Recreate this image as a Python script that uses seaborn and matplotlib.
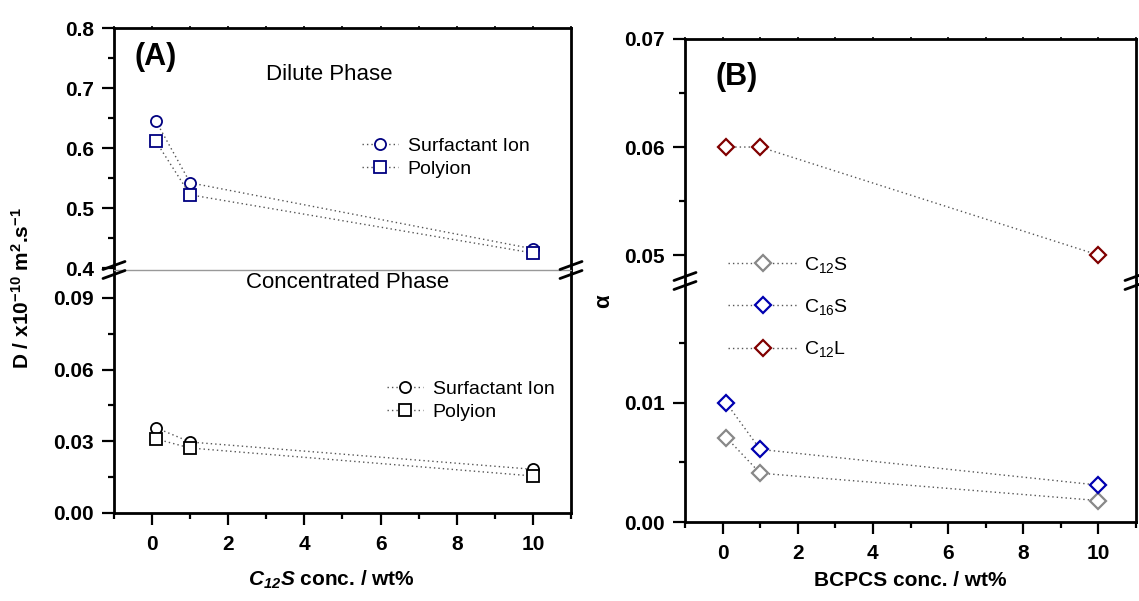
import numpy as np
import pandas as pd
import seaborn as sns
import matplotlib
matplotlib.use("Agg")
import matplotlib.pyplot as plt
from matplotlib.ticker import MultipleLocator, FixedLocator, FormatStrFormatter
from matplotlib.lines import Line2D

# ---------------- data ----------------
conc = [0.1, 1.0, 10.0]
dilute_surf = [0.645, 0.542, 0.432]
dilute_poly = [0.611, 0.522, 0.425]
conc_surf = [0.0357, 0.0297, 0.0183]
conc_poly = [0.0310, 0.0272, 0.0155]

bcpcs = [0.1, 1.0, 10.0]
alpha_c12s = [0.0071, 0.0041, 0.0018]
alpha_c16s = [0.0100, 0.0061, 0.0031]
alpha_c12l = [0.0600, 0.0600, 0.0500]

W, H = 1139, 601

sns.set_theme(style="ticks")
plt.rcParams["font.family"] = ["Liberation Sans", "DejaVu Sans"]
plt.rcParams["mathtext.fontset"] = "custom"
plt.rcParams["mathtext.rm"] = "Liberation Sans"
plt.rcParams["mathtext.it"] = "Liberation Sans:italic"
plt.rcParams["mathtext.bf"] = "Liberation Sans:bold"
plt.rcParams["mathtext.bfit"] = "Liberation Sans:italic:bold"
plt.rcParams["axes.linewidth"] = 2.0
for key in ("text.color", "axes.labelcolor", "xtick.color", "ytick.color", "axes.edgecolor"):
    plt.rcParams[key] = "black"

fig = plt.figure(figsize=(W / 100, H / 100), dpi=100)
fig.patch.set_facecolor("white")


def px_axes(l, t, r, b):
    return fig.add_axes([l / W, 1 - b / H, (r - l) / W, (b - t) / H])


axA_top = px_axes(114, 28, 571, 270)
axA_bot = px_axes(114, 270, 571, 513)
axB_top = px_axes(685, 39, 1136, 281)
axB_bot = px_axes(685, 281, 1136, 522)

TICK_FS = 15
LINE_COLOR = "#555555"
LS = (0, (1, 2.2))


def style_pair(top, bot, top_ylim, bot_ylim):
    for ax in (top, bot):
        ax.set_xlim(-1, 11)
        ax.set_facecolor("white")
        for s in ax.spines.values():
            s.set_linewidth(2.0)
            s.set_color("black")
        ax.xaxis.set_major_locator(MultipleLocator(2))
        ax.xaxis.set_minor_locator(MultipleLocator(1))
        ax.tick_params(axis="y", which="major", direction="out", length=8.5, width=1.6,
                       labelsize=TICK_FS, pad=6, right=False, colors="black")
        ax.tick_params(axis="y", which="minor", direction="out", length=4.5, width=1.6,
                       right=False, colors="black")
    top.set_ylim(*top_ylim)
    bot.set_ylim(*bot_ylim)
    top.spines["bottom"].set_visible(False)
    bot.spines["top"].set_visible(False)
    top.tick_params(axis="x", which="both", bottom=False, labelbottom=False,
                    top=True, direction="out", length=1.5, width=1.2, colors="black")
    bot.tick_params(axis="x", which="major", direction="out", length=8.5, width=1.6,
                    labelsize=TICK_FS, pad=7, top=False, colors="black")
    bot.tick_params(axis="x", which="minor", direction="out", length=4.5, width=1.6,
                    top=False, colors="black")


def draw(ax, x, y, marker, color, label, ms=8, mew=1.3):
    sns.lineplot(x=x, y=y, ax=ax, sort=False, color=LINE_COLOR, linestyle=LS, linewidth=1.0,
                 marker=marker, markersize=ms, markeredgecolor=color, markerfacecolor="white",
                 markeredgewidth=mew, label=label, legend=False)


# ---------------- Panel A ----------------
draw(axA_top, conc, dilute_surf, "o", "#000080", "Surfactant Ion")
draw(axA_top, conc, dilute_poly, "s", "#000080", "Polyion")
draw(axA_bot, conc, conc_surf, "o", "black", "Surfactant Ion")
draw(axA_bot, conc, conc_poly, "s", "black", "Polyion")

style_pair(axA_top, axA_bot, (0.3967, 0.8), (0.0, 0.1017))
axA_top.yaxis.set_major_locator(FixedLocator([0.4, 0.5, 0.6, 0.7, 0.8]))
axA_top.yaxis.set_minor_locator(FixedLocator([0.45, 0.55, 0.65, 0.75]))
axA_top.yaxis.set_major_formatter(FormatStrFormatter("%.1f"))
axA_bot.yaxis.set_major_locator(FixedLocator([0.0, 0.03, 0.06, 0.09]))
axA_bot.yaxis.set_minor_locator(FixedLocator([0.015, 0.045, 0.075]))
axA_bot.yaxis.set_major_formatter(FormatStrFormatter("%.2f"))

# ---------------- Panel B ----------------
seriesB = [(alpha_c12s, "#888888", r"C$_{12}$S"),
           (alpha_c16s, "#0000B0", r"C$_{16}$S"),
           (alpha_c12l, "#800000", r"C$_{12}$L")]
for vals, col, lab in seriesB:
    draw(axB_top, bcpcs, vals, "D", col, lab, ms=8, mew=1.6)
    draw(axB_bot, bcpcs, vals, "D", col, lab, ms=8, mew=1.6)

style_pair(axB_top, axB_bot, (0.0476, 0.07), (0.0, 0.02025))
axB_top.yaxis.set_major_locator(FixedLocator([0.05, 0.06, 0.07]))
axB_top.yaxis.set_minor_locator(FixedLocator([0.055, 0.065]))
axB_top.yaxis.set_major_formatter(FormatStrFormatter("%.2f"))
axB_bot.yaxis.set_major_locator(FixedLocator([0.0, 0.01]))
axB_bot.yaxis.set_minor_locator(FixedLocator([0.005, 0.015]))
axB_bot.yaxis.set_major_formatter(FormatStrFormatter("%.2f"))

for ax in (axA_top, axA_bot, axB_top, axB_bot):
    for lab in ax.get_yticklabels() + ax.get_xticklabels():
        lab.set_fontweight("bold")
        lab.set_color("black")

# ---------------- legends ----------------
LEG_FS = 14
h, l = axA_top.get_legend_handles_labels()
axA_top.legend(h, l, loc="center left", bbox_to_anchor=(362 / W, 1 - 157.5 / H),
               bbox_transform=fig.transFigure, frameon=False, fontsize=LEG_FS,
               handlelength=1.85, handletextpad=0.5, labelspacing=0.3,
               borderpad=0, borderaxespad=0, numpoints=1, labelcolor="black")
h, l = axA_bot.get_legend_handles_labels()
axA_bot.legend(h, l, loc="center left", bbox_to_anchor=(387 / W, 1 - 400.5 / H),
               bbox_transform=fig.transFigure, frameon=False, fontsize=LEG_FS,
               handlelength=1.85, handletextpad=0.5, labelspacing=0.3,
               borderpad=0, borderaxespad=0, numpoints=1, labelcolor="black")
h, l = axB_bot.get_legend_handles_labels()
fig.legend(h, l, loc="center left", bbox_to_anchor=(728 / W, 1 - 307 / H),
           bbox_transform=fig.transFigure, frameon=False, fontsize=LEG_FS,
           handlelength=3.6, handletextpad=0.3, labelspacing=1.15,
           borderpad=0, borderaxespad=0, numpoints=1, labelcolor="black")


# ---------------- annotations ----------------
def ftext(x, y, s, **kw):
    fig.text(x / W, 1 - y / H, s, color="black", **kw)


ftext(156, 57, "(A)", fontsize=22, fontweight="bold", ha="center", va="center")
ftext(737, 77, "(B)", fontsize=22, fontweight="bold", ha="center", va="center")
ftext(329, 75, "Dilute Phase", fontsize=16, ha="center", va="center")
ftext(348, 282, "Concentrated Phase", fontsize=16, ha="center", va="center")

ftext(22, 288, r"D / x10$^{\mathbf{-10}}$ m$^{\mathbf{2}}$.s$^{\mathbf{-1}}$",
      fontsize=15, fontweight="bold", rotation=90, ha="center", va="center")
ftext(605, 301, r"$\mathbf{\alpha}$", fontsize=16, fontweight="bold", rotation=90,
      ha="center", va="center")
ftext(331, 580, r"$\mathbfit{C}_{\mathbfit{12}}\mathbfit{S}$ conc. / wt%",
      fontsize=15, fontweight="bold", ha="center", va="center")
ftext(910, 580, "BCPCS conc. / wt%", fontsize=15, fontweight="bold", ha="center", va="center")

# break line (panel A) and break marks
fig.add_artist(Line2D([114 / W, 571 / W], [1 - 270 / H, 1 - 270 / H],
                      transform=fig.transFigure, color="#999999", linewidth=1.0))


def break_marks(xc, yc):
    for dy in (-4.5, 4.5):
        fig.add_artist(Line2D([(xc - 11) / W, (xc + 11) / W],
                              [1 - (yc + dy + 4) / H, 1 - (yc + dy - 4) / H],
                              transform=fig.transFigure, color="black", linewidth=2.0))


break_marks(114, 270)
break_marks(571, 270)
break_marks(685, 281)
break_marks(1136, 281)

fig.savefig("out.png", dpi=100, facecolor="white")
